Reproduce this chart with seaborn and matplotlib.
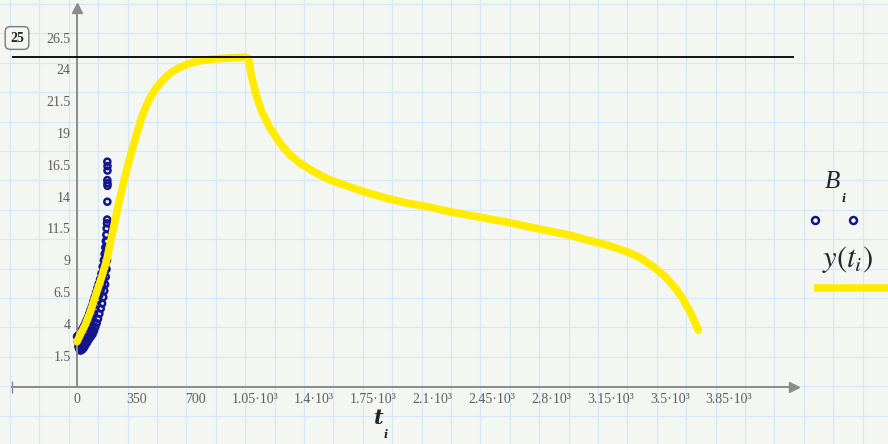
import numpy as np
import pandas as pd
import matplotlib
matplotlib.use('Agg')
import matplotlib.pyplot as plt
import seaborn as sns

# fitted curve y(t_i)
t_fit = [0, 25, 51, 80, 116, 146, 175, 215, 245, 275, 303, 328, 352, 381, 411, 441, 471,
         510, 549, 598, 648, 716, 785, 864, 943, 992,
         1012, 1031, 1061, 1091, 1140, 1199, 1258, 1317, 1396, 1494, 1691, 1829, 1947,
         2084, 2208, 2380, 2537, 2734, 2901, 3010, 3128, 3246, 3325, 3403, 3482, 3541,
         3580, 3630, 3669]
y_fit = [2.6, 3.3, 4.0, 5.0, 6.5, 7.7, 9.0, 11.5, 13.4, 15.1, 16.6, 17.8, 18.9, 20.2, 21.2,
         22.0, 22.6, 23.2, 23.7, 24.1, 24.4, 24.66, 24.8, 24.88, 24.93, 24.96,
         24.9, 23.43, 21.86, 20.68, 19.38, 18.2, 17.28, 16.63, 15.97, 15.31, 14.4, 13.87,
         13.5, 13.17, 12.8, 12.38, 12.0, 11.44, 11.0, 10.6, 10.2, 9.68, 9.2, 8.5, 7.6,
         6.67, 5.9, 4.7, 3.5]

# measured points B_i
t_meas = [0, 8, 16, 24, 32, 40, 48, 56, 64, 72, 80, 88, 96, 104, 112, 120, 128, 136, 144,
          152, 158, 163, 167, 170, 173, 175, 177, 178,
          4, 12, 20, 28, 36, 44, 52, 60, 68, 76, 84, 92, 100, 108, 116, 124, 132, 140, 148,
          155, 161, 166, 170, 173, 176,
          8, 14, 20, 28, 36, 44, 52, 60, 68, 76, 84, 92, 100, 108, 116, 124, 132, 140, 148,
          155, 161, 166, 170, 174, 177, 179,
          179, 180, 180, 179, 180, 180, 179]
B_meas = [3.0, 3.1, 3.25, 3.4, 3.6, 3.8, 4.0, 4.25, 4.5, 4.8, 5.1, 5.4, 5.75, 6.1, 6.45, 6.8,
          7.15, 7.5, 7.95, 8.5, 9.0, 9.5, 10.0, 10.5, 11.0, 11.5, 11.9, 12.2,
          2.6, 2.55, 2.6, 2.7, 2.85, 3.0, 3.2, 3.4, 3.65, 3.9, 4.2, 4.5, 4.8, 5.15, 5.5, 5.85,
          6.25, 6.65, 7.1, 7.6, 8.1, 8.7, 9.3, 9.9, 10.5,
          2.2, 2.0, 1.9, 1.95, 2.05, 2.2, 2.4, 2.55, 2.75, 2.9, 3.05, 3.2, 3.45, 3.75, 4.05,
          4.4, 4.8, 5.2, 5.6, 6.1, 6.6, 7.1, 7.7, 8.3, 9.0, 9.7,
          13.6, 14.85, 15.05, 15.3, 16.05, 16.4, 16.75]

marker_level = 25

x_ticks = [0, 350, 700, 1050, 1400, 1750, 2100, 2450, 2800, 3150, 3500, 3850]
x_ticklabels = ['0', '350', '700', '1.05·10³', '1.4·10³', '1.75·10³', '2.1·10³',
                '2.45·10³', '2.8·10³', '3.15·10³', '3.5·10³', '3.85·10³']
y_ticks = [1.5, 4, 6.5, 9, 11.5, 14, 16.5, 19, 21.5, 24, 26.5]
y_ticklabels = ['1.5', '4', '6.5', '9', '11.5', '14', '16.5', '19', '21.5', '24', '26.5']

df_fit = pd.DataFrame({'t': t_fit, 'y': y_fit})
df_meas = pd.DataFrame({'t': t_meas, 'B': B_meas})

sns.set_style('white')
plt.rcParams['font.family'] = ['Liberation Serif', 'DejaVu Serif']
plt.rcParams['mathtext.fontset'] = 'stix'

paper = '#f4f6f2'
gridblue = '#d6e7f6'
axgray = '#8c8c8c'
labgray = '#5f5f5f'
navy = '#14148c'
yellow = '#ffec00'

fig = plt.figure(figsize=(8.88, 4.44), dpi=100, facecolor=paper)

# worksheet grid paper in the background (pixel coordinates)
bg = fig.add_axes([0, 0, 1, 1], zorder=0)
bg.set_xlim(0, 888)
bg.set_ylim(444, 0)
bg.axis('off')
for gx in np.arange(10, 888, 29.4):
    bg.axvline(gx, color=gridblue, lw=0.9)
for gy in np.arange(4, 444, 29.4):
    bg.axhline(gy, color=gridblue, lw=0.9)

ax = fig.add_axes([12 / 888, 1 - 386.7 / 444, (794 - 12) / 888, (386.7 - 8) / 444], zorder=1)
ax.set_facecolor('none')

sns.scatterplot(data=df_meas, x='t', y='B', ax=ax, marker='o', s=19,
                facecolors='none', edgecolor=navy, linewidth=1.8, zorder=2, legend=False)
sns.lineplot(data=df_fit, x='t', y='y', ax=ax, color=yellow, lw=5.5,
             estimator=None, sort=False, zorder=3, legend=False)
ax.axhline(marker_level, color='black', lw=1.3, zorder=4)

ax.set_xlim(-384, 4234)
ax.set_ylim(-0.94, 28.83)

for side in ['top', 'right']:
    ax.spines[side].set_visible(False)
ax.spines['left'].set_position(('data', 0))
ax.spines['left'].set_color(axgray)
ax.spines['bottom'].set_color(axgray)
ax.spines['left'].set_linewidth(1.4)
ax.spines['bottom'].set_linewidth(1.4)

ax.set_xticks(x_ticks)
ax.set_xticklabels(x_ticklabels)
ax.set_yticks(y_ticks)
ax.set_yticklabels(y_ticklabels)
ax.tick_params(axis='x', direction='inout', length=7, width=1, color=axgray,
               labelsize=10, labelcolor=labgray, pad=1)
ax.tick_params(axis='y', direction='out', length=4, width=1, color=axgray,
               labelsize=10, labelcolor=labgray, pad=0.5)
ax.set_xlabel('')
ax.set_ylabel('')

# axis arrow heads
ax.plot(1, 0, marker='>', ms=7, color=axgray, transform=ax.transAxes, clip_on=False)
ax.plot(0, 1, marker='^', ms=7, color=axgray, transform=ax.get_xaxis_transform(), clip_on=False)
ax.plot(0, 0, marker='|', ms=8, color=axgray, transform=ax.transAxes, clip_on=False)

# axis title t_i
fig.text(379 / 888, 1 - 418 / 444, 't', fontsize=15, fontweight='bold', style='italic',
         ha='center', va='center', family=['DejaVu Serif'])
fig.text(386 / 888, 1 - 434 / 444, 'i', fontsize=8, fontweight='bold', style='italic',
         ha='center', va='center', family=['DejaVu Serif'])

# boxed marker value
fig.text(17 / 888, 1 - 38 / 444, '25', fontsize=10, fontweight='bold', ha='center', va='center',
         bbox=dict(boxstyle='round,pad=0.35', fc=paper, ec='#7a7a7a', lw=1))

# legend on the right
fig.text(832 / 888, 1 - 182 / 444, 'B', fontsize=18, style='italic', ha='center', va='center')
fig.text(844 / 888, 1 - 199 / 444, 'i', fontsize=8, fontweight='bold', style='italic',
         ha='center', va='center', family=['DejaVu Serif'])
bg.plot([815, 853], [220, 220], ls='none', marker='o', ms=5, mfc='white', mec=navy, mew=1.8)
fig.text(847 / 888, 1 - 259 / 444, r'$y\left(t_{i}\right)$', fontsize=22,
         ha='center', va='center')
bg.plot([814, 888], [288, 288], color=yellow, lw=5.5, solid_capstyle='butt')

fig.savefig('out.png', dpi=100, facecolor=paper)
